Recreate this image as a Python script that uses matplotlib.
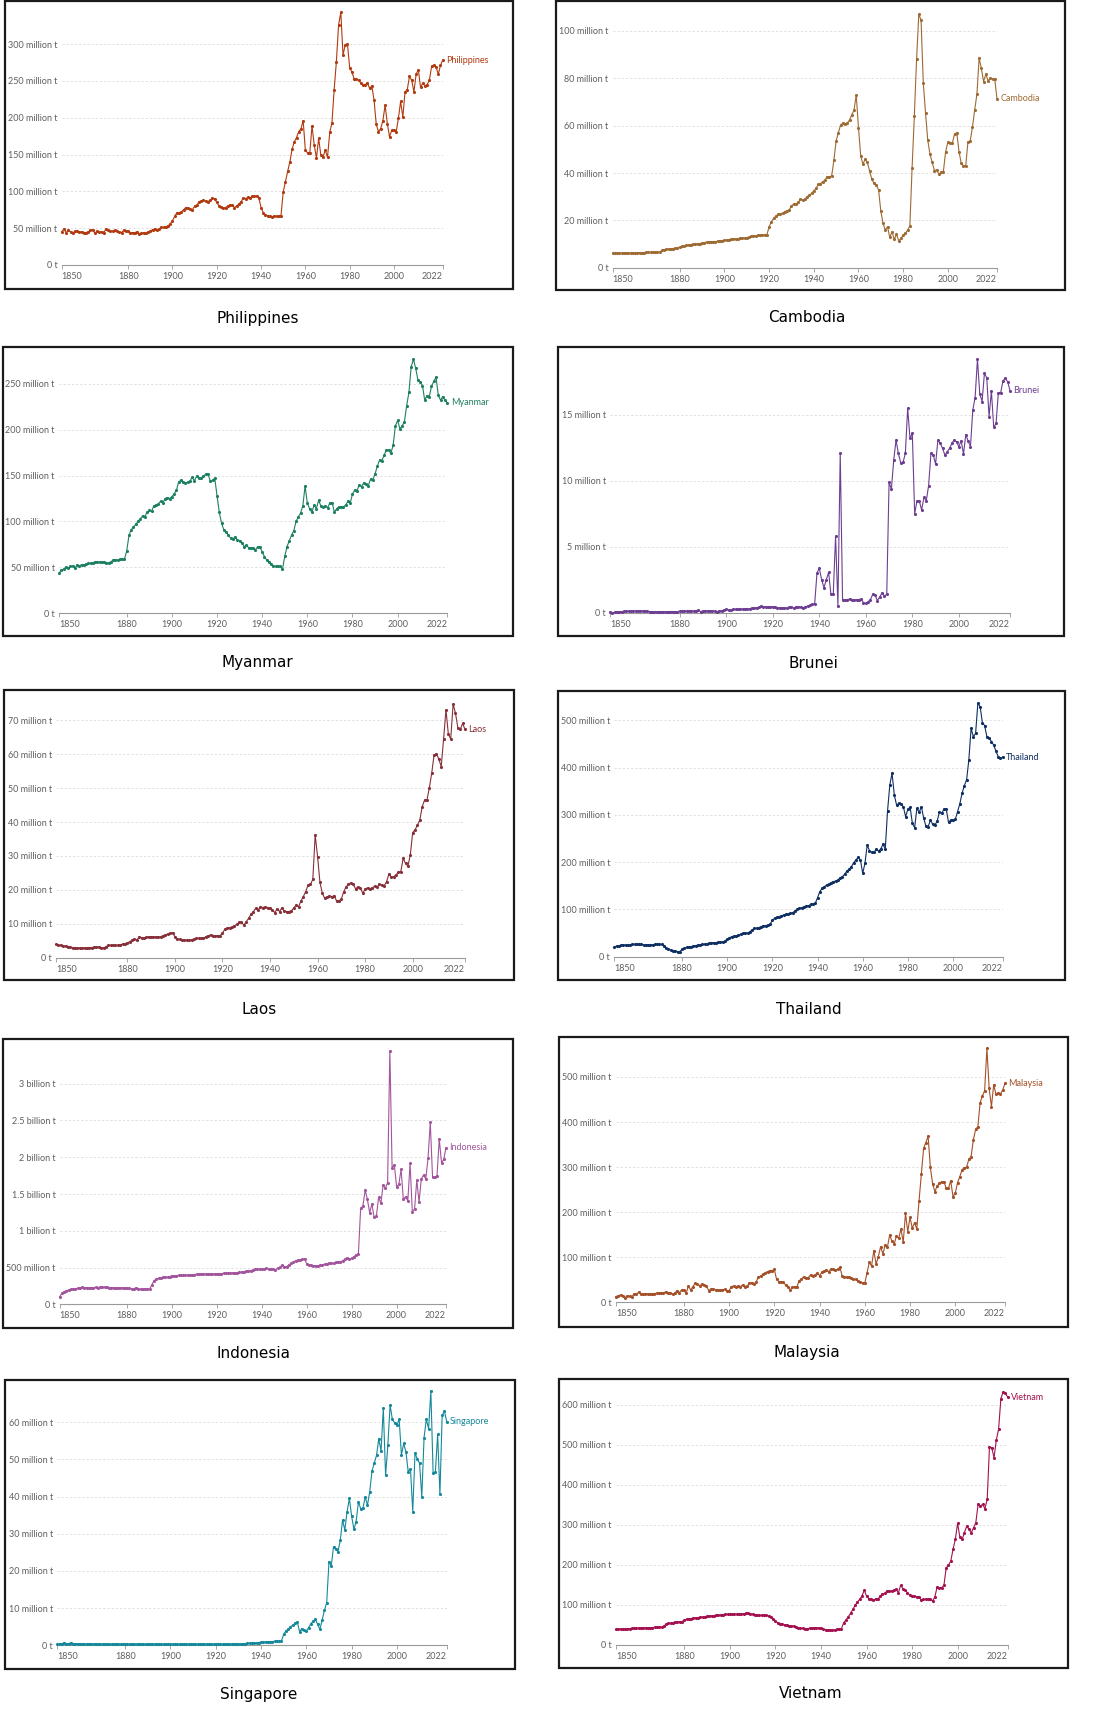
import numpy as np
import matplotlib
matplotlib.use("Agg")
import matplotlib.pyplot as plt
from matplotlib.patches import Rectangle
from matplotlib.ticker import FixedLocator, FuncFormatter

plt.rcParams["font.family"] = ["Lato", "DejaVu Sans"]

# =========================================================
# data: annual values 1850-2022, million tonnes
# =========================================================
years = np.arange(1850, 2023)

philippines = [
    45, 49, 44, 47, 45, 43, 46, 46, 45, 45,
    44, 44, 45, 47, 48, 43, 46, 45, 45, 44,
    49, 48, 46, 46, 47, 46, 45, 44, 47, 46,
    46, 44, 44, 44, 45, 42, 43, 44, 43, 45,
    46, 48, 49, 48, 49, 51, 51, 52, 53, 56,
    60, 66, 71, 70, 72, 75, 78, 77, 76, 75,
    80, 81, 86, 87, 88, 87, 86, 88, 91, 90,
    85, 80, 79, 77, 78, 80, 82, 81, 78, 80,
    83, 86, 91, 90, 92, 91, 93, 93, 94, 91,
    78, 71, 68, 67, 66, 65, 67, 66, 66, 67,
    99, 113, 127, 140, 157, 167, 173, 181, 185, 196,
    156, 152, 152, 189, 163, 145, 172, 149, 147, 156,
    146, 180, 193, 238, 276, 326, 343, 285, 299, 300,
    268, 262, 253, 252, 251, 247, 245, 245, 247, 240,
    243, 224, 191, 181, 185, 196, 217, 192, 174, 183,
    183, 181, 199, 222, 201, 235, 238, 256, 251, 235,
    259, 265, 241, 247, 243, 245, 251, 270, 271, 269,
    259, 271, 278,
]

cambodia = [
    6.1, 6.1, 6.1, 6.1, 6.1, 6.2, 6.2, 6.2, 6.2, 6.3,
    6.3, 6.3, 6.4, 6.4, 6.4, 6.5, 6.5, 6.5, 6.5, 6.5,
    6.6, 6.6, 7.3, 7.6, 7.7, 7.9, 8.0, 8.1, 8.2, 8.3,
    8.7, 9.0, 9.2, 9.5, 9.7, 9.8, 9.9, 10.0, 10.1, 10.2,
    10.4, 10.6, 10.8, 10.8, 10.9, 11.0, 11.0, 11.2, 11.4, 11.3,
    11.5, 11.8, 11.9, 12.0, 12.1, 12.2, 12.3, 12.4, 12.5, 12.6,
    12.7, 12.9, 13.2, 13.5, 13.5, 13.7, 13.8, 13.9, 13.9, 13.9,
    17.3, 19.4, 20.8, 21.8, 22.5, 22.8, 23.0, 23.7, 24.1, 24.4,
    26.1, 26.9, 26.8, 27.6, 28.9, 28.6, 28.9, 30.0, 30.7, 31.4,
    32.5, 33.5, 35.2, 35.5, 36.3, 37.0, 38.5, 38.5, 38.7, 45.5,
    53.5, 57.0, 60.3, 61.0, 60.7, 61.0, 62.4, 64.5, 66.6, 73.0,
    59.2, 47.2, 43.7, 45.9, 44.5, 40.8, 37.3, 35.6, 34.9, 32.8,
    23.9, 18.7, 15.9, 17.3, 12.8, 15.2, 12.0, 14.1, 11.4, 12.4,
    13.8, 14.5, 15.9, 17.7, 42.3, 64.1, 88.0, 107.0, 104.7, 78.2,
    65.5, 53.9, 48.0, 44.5, 41.0, 41.3, 39.4, 40.3, 40.6, 49.0,
    53.0, 52.8, 52.5, 56.5, 57.0, 49.0, 44.1, 43.1, 43.0, 53.2,
    53.5, 59.3, 66.6, 73.2, 88.5, 84.2, 78.6, 81.8, 78.9, 80.0,
    79.7, 79.7, 71.3,
]

myanmar = [
    43.5, 47, 48, 50, 49, 51, 51.5, 49, 52.6, 51.5,
    53, 52.6, 53.7, 54.4, 54.4, 55, 56, 56, 56, 55.5,
    56, 55, 55, 56, 58, 58.5, 58, 58.8, 59, 59,
    68, 85, 91, 94, 97, 100, 103, 106, 105, 110,
    112, 111, 117, 118, 119, 122, 120, 125, 126, 125,
    127, 130, 134, 143, 145, 143, 141.5, 143, 144, 148,
    144.4, 149.5, 147, 147, 149, 151.7, 151.7, 144, 145, 147,
    128, 110, 98, 91, 89, 85, 82, 81, 83, 80,
    79, 77, 72.6, 74, 71.5, 71.5, 70.8, 69, 72.6, 72,
    67, 61.7, 58, 56, 53.7, 51, 51, 51, 51, 48,
    62, 72.6, 78.7, 85, 90, 100, 105, 109, 117, 138.6,
    120, 114, 110, 118, 114, 123, 117, 116, 117, 115,
    120.5, 120.5, 110, 114, 116, 116, 116, 118, 122, 120,
    130, 134, 133.5, 140, 138, 142, 141, 139, 146, 145,
    152, 160, 167, 166, 172, 178, 178, 174, 183, 204,
    210, 201, 204, 208.5, 226, 240.6, 268.5, 276.5, 266.7, 254,
    251.5, 248, 232, 237, 236, 247, 252.5, 257, 237.7, 232,
    236, 232, 229,
]

brunei = [
    0.05, 0.0, 0.03, 0.06, 0.08, 0.08, 0.1, 0.12, 0.12, 0.1,
    0.12, 0.13, 0.12, 0.14, 0.13, 0.15, 0.1, 0.08, 0.08, 0.08,
    0.08, 0.08, 0.07, 0.06, 0.08, 0.08, 0.09, 0.09, 0.08, 0.06,
    0.12, 0.13, 0.13, 0.13, 0.14, 0.13, 0.12, 0.15, 0.18, 0.08,
    0.12, 0.16, 0.14, 0.14, 0.14, 0.1, 0.05, 0.14, 0.15, 0.2,
    0.25, 0.22, 0.18, 0.27, 0.26, 0.26, 0.28, 0.27, 0.3, 0.28,
    0.3, 0.35, 0.35, 0.38, 0.4, 0.5, 0.45, 0.45, 0.45, 0.44,
    0.45, 0.42, 0.38, 0.37, 0.36, 0.36, 0.35, 0.4, 0.45, 0.35,
    0.45, 0.45, 0.42, 0.35, 0.45, 0.5, 0.55, 0.65, 0.65, 3.0,
    3.36, 2.5, 1.9, 2.5, 3.05, 1.4, 1.4, 5.8, 0.53, 12.07,
    1.0, 0.96, 1.0, 1.03, 1.0, 0.96, 1.0, 1.0, 1.03, 0.76,
    0.7, 0.83, 1.0, 1.4, 1.34, 0.9, 1.2, 1.5, 1.26, 1.4,
    9.87, 9.37, 11.56, 13.08, 12.07, 11.36, 11.39, 12.07, 15.5, 13.2,
    13.6, 7.5, 8.46, 8.46, 7.78, 8.74, 8.48, 9.62, 12.07, 11.94,
    11.26, 13.08, 12.83, 12.45, 11.94, 12.2, 12.45, 12.83, 13.08, 12.95,
    12.58, 13.03, 12.02, 13.5, 13.0, 12.58, 15.35, 16.3, 19.2, 16.6,
    16.0, 18.13, 17.8, 14.85, 16.8, 14.04, 14.34, 16.67, 16.67, 17.58,
    17.75, 17.5, 16.82,
]

laos = [
    3.9, 3.7, 3.7, 3.4, 3.5, 3.2, 3.1, 3.0, 3.0, 2.9,
    2.9, 2.9, 2.9, 2.9, 3.0, 3.0, 3.1, 3.1, 3.2, 3.0,
    2.9, 3.2, 3.7, 3.6, 3.6, 3.6, 3.7, 3.8, 4.0, 4.1,
    4.4, 4.7, 5.2, 5.5, 5.2, 6.2, 5.9, 5.7, 6.0, 6.2,
    6.2, 6.1, 6.2, 6.0, 6.2, 6.5, 6.7, 7.0, 7.2, 7.4,
    6.2, 5.5, 5.4, 5.2, 5.2, 5.2, 5.1, 5.3, 5.5, 5.7,
    5.7, 5.7, 5.7, 6.2, 6.5, 6.7, 6.5, 6.5, 6.5, 6.5,
    7.2, 8.4, 8.7, 8.9, 9.0, 9.4, 9.8, 10.4, 10.4, 9.6,
    10.6, 11.6, 12.8, 13.6, 14.6, 14.1, 15.0, 14.8, 15.0, 14.8,
    14.6, 14.1, 13.3, 14.4, 13.6, 14.7, 13.8, 13.6, 13.6, 13.8,
    14.7, 15.5, 15.0, 16.7, 18.0, 19.5, 21.4, 21.6, 23.1, 36.2,
    29.8, 22.2, 19.0, 17.5, 18.0, 18.2, 18.0, 18.3, 16.7, 16.7,
    17.3, 19.5, 20.9, 21.6, 22.1, 21.6, 20.3, 20.9, 20.6, 19.0,
    20.3, 20.6, 20.3, 20.6, 21.1, 20.9, 21.6, 21.4, 21.2, 22.4,
    24.7, 23.7, 23.9, 24.4, 25.2, 25.4, 29.3, 27.8, 27.0, 30.3,
    36.9, 37.7, 39.1, 40.6, 44.5, 46.5, 46.5, 50.0, 54.4, 59.8,
    60.1, 58.6, 56.3, 64.5, 73.1, 65.9, 64.5, 74.8, 72.1, 67.8,
    67.3, 69.1, 67.3,
]

thailand = [
    19.7, 22.6, 23, 24.7, 24.7, 24.7, 24.7, 24.7, 26, 26,
    26, 26, 26, 24.7, 24.7, 25, 25, 25.5, 26, 26,
    26, 26, 23, 17.6, 15.5, 14, 12.7, 12, 10.6, 10.6,
    15.5, 17.6, 19.7, 21.2, 21.2, 22.6, 23.3, 24.7, 24.7, 26,
    26.8, 27.5, 28.2, 29, 29.6, 29.6, 30.3, 31, 31.7, 33.1,
    37.4, 40.2, 42.3, 43.7, 43.7, 45.8, 47.2, 49.4, 50.8, 49.4,
    52.9, 56.4, 59.9, 59.9, 61.4, 63.5, 65.6, 65.6, 67, 68.4,
    77.6, 81.1, 83.2, 84.6, 86.7, 88.2, 89.6, 89.6, 91.7, 93.1,
    96.6, 100.1, 102.3, 103.7, 105.8, 107.2, 107.9, 110.7, 110.7, 112.8,
    124.8, 137.5, 144.6, 148.1, 151.6, 153.7, 156.6, 158.7, 160.1, 162.2,
    167.1, 169.3, 174.2, 181.2, 184.8, 190.4, 198.9, 204.5, 210.2, 204.5,
    176.3, 197.5, 236.2, 224.3, 220.7, 220.7, 227.1, 223.6, 227.8, 237.7,
    227.8, 308.2, 363.2, 387.9, 342, 320.9, 324.4, 322.3, 317.3, 296.2,
    311.7, 315.9, 282.1, 272.9, 313.8, 305.4, 317.3, 292.7, 276.4, 275,
    289.1, 280, 278.6, 287, 306.8, 303.2, 312.4, 311.7, 284.2, 289.1,
    289.1, 290.6, 306.8, 323, 345.6, 361.8, 373.8, 416, 483, 465.4,
    472.5, 536, 529, 495, 488.7, 465.4, 463.3, 454.9, 447.8, 435.1,
    423.1, 419.6, 422,
]

indonesia = [
    104, 150, 172, 186, 195, 204, 208, 213, 217, 222,
    231, 228, 227, 226, 227, 228, 229, 228, 230, 232,
    236, 230, 228, 227, 226, 225, 224, 225, 223, 222,
    224, 217, 204, 208, 227, 213, 204, 204, 208, 213,
    204, 263, 322, 340, 353, 362, 367, 376, 367, 376,
    390, 385, 390, 392, 394, 395, 396, 398, 399, 400,
    405, 408, 410, 412, 412, 413, 414, 414, 415, 413,
    414, 417, 418, 420, 422, 424, 426, 427, 428, 430,
    435, 440, 444, 448, 452, 458, 466, 476, 478, 480,
    478, 480, 489, 478, 484, 476, 470, 490, 503, 530,
    512, 512, 535, 557, 571, 594, 600, 603, 612, 621,
    548, 535, 530, 526, 526, 526, 530, 535, 544, 553,
    557, 557, 557, 571, 580, 571, 594, 612, 634, 616,
    625, 648, 671, 689, 1305, 1337, 1554, 1427, 1246, 1364,
    1183, 1201, 1454, 1373, 1622, 1577, 1654, 3448, 1858, 1894,
    1600, 1631, 1835, 1427, 1464, 1405, 1917, 1260, 1296, 1690,
    1387, 1704, 1758, 1704, 1985, 2474, 1735, 1726, 1749, 2247,
    1926, 1971, 2130,
]

malaysia = [
    12.6, 14.8, 16.3, 14.8, 10.4, 14.8, 14, 12.6, 18.5, 18.5,
    22.2, 18.5, 18.5, 19, 19, 18.5, 19, 19.5, 20, 20,
    21.4, 20, 23.7, 21.4, 21.4, 17.8, 20, 25.9, 21.4, 27.4,
    27.4, 20, 36.2, 27.4, 34.8, 42.2, 40, 37, 40, 38.5,
    36.2, 25.9, 29.6, 29.6, 27.4, 27.4, 27.4, 27.4, 28.8, 25.9,
    25.9, 34.8, 36.2, 34.8, 36.2, 34.8, 38.5, 34.8, 36.2, 42.2,
    43.6, 40.7, 45.9, 55.5, 58.4, 62.1, 65.8, 68, 70.3, 70,
    73.2, 51, 45.9, 45.9, 44.4, 38.5, 34.8, 27.4, 33.3, 34.8,
    34.8, 48.1, 51, 57, 53.3, 54.7, 60.7, 59.2, 60.7, 64.3,
    59.2, 66.6, 69.5, 71.7, 68, 73.2, 73.2, 71.7, 73.2, 77.7,
    58.4, 57, 55.5, 55.5, 53.3, 51, 51, 47.3, 45.9, 43.6,
    42.2, 65.8, 88.8, 80.6, 114.6, 84.3, 101.3, 123.5, 107.2, 127.2,
    122, 149.4, 136, 129.4, 147.2, 142, 162.7, 133.1, 197.5, 156.8,
    188.6, 164.2, 176.8, 162.7, 225.6, 284.8, 341.7, 354.3, 369, 299.6,
    262.6, 245.6, 258.1, 264, 267.8, 267.8, 253, 253, 270, 234.5,
    241.9, 265.5, 278.8, 293.6, 298.8, 299.6, 317.3, 323.2, 360.2, 383.9,
    389.8, 443, 457.8, 469.7, 563.6, 474.9, 434.2, 483, 461.5, 465.2,
    462.3, 471.2, 486,
]

singapore = [
    0.27, 0.45, 0.4, 0.7, 0.45, 0.45, 0.7, 0.45, 0.4, 0.45,
    0.4, 0.35, 0.35, 0.35, 0.35, 0.4, 0.35, 0.35, 0.3, 0.3,
    0.3, 0.3, 0.3, 0.3, 0.3, 0.3, 0.3, 0.3, 0.3, 0.3,
    0.3, 0.3, 0.3, 0.3, 0.3, 0.3, 0.3, 0.3, 0.3, 0.3,
    0.3, 0.3, 0.3, 0.3, 0.3, 0.3, 0.3, 0.3, 0.3, 0.3,
    0.3, 0.3, 0.3, 0.3, 0.3, 0.3, 0.3, 0.3, 0.3, 0.3,
    0.3, 0.3, 0.3, 0.3, 0.3, 0.3, 0.3, 0.3, 0.35, 0.3,
    0.3, 0.3, 0.3, 0.3, 0.3, 0.3, 0.3, 0.3, 0.3, 0.32,
    0.35, 0.38, 0.4, 0.45, 0.5, 0.55, 0.6, 0.65, 0.7, 0.75,
    0.8, 0.85, 0.9, 0.95, 1.0, 1.0, 1.05, 1.1, 1.1, 1.15,
    3.0, 3.9, 4.3, 5.0, 5.4, 5.9, 6.3, 3.7, 4.5, 4.0,
    3.9, 4.75, 5.8, 6.5, 7.0, 5.6, 4.3, 6.8, 9.4, 11.5,
    22.5, 21.3, 26.5, 25.8, 25.2, 28.3, 33.7, 31.0, 36.0, 39.5,
    34.8, 31.2, 33.3, 38.6, 36.8, 36.9, 39.9, 37.7, 41.3, 46.9,
    49.0, 51.1, 55.6, 52.3, 63.8, 45.7, 53.8, 64.6, 60.8, 59.9,
    59.2, 60.8, 51.2, 54.3, 52.0, 46.7, 47.5, 36.0, 51.7, 50.2,
    49.0, 40.0, 55.9, 60.8, 58.3, 68.4, 46.3, 46.6, 56.8, 40.6,
    61.9, 63.0, 60.2,
]

vietnam = [
    39, 40, 40, 40.5, 40.5, 41, 41, 41.5, 41.5, 42,
    42.4, 42.5, 42.7, 43, 43, 43.3, 43.5, 44, 44.5, 45,
    45, 47.4, 51.6, 54, 54.5, 55.8, 57.4, 57.4, 58.3, 58.5,
    61.6, 64, 65.7, 66, 67.4, 68.2, 68.2, 70, 69.5, 70.7,
    71.6, 72.4, 73.2, 73.2, 74.9, 74.1, 75.7, 75.7, 76.6, 76.6,
    76.6, 76.6, 76.6, 76.6, 78.2, 77.4, 78.2, 79, 79, 78.2,
    76.6, 74.9, 74.1, 74.1, 74.1, 74.1, 74.1, 72.4, 70.7, 64,
    59, 55.8, 53.3, 51.6, 50.8, 49.1, 48.5, 48.5, 46.6, 46,
    43.3, 41.6, 41.6, 40.8, 40.8, 41.6, 42.4, 42.4, 43.3, 42.4,
    41.6, 39, 38.3, 38.3, 37.4, 37.4, 37.4, 39, 40, 40.8,
    55.8, 62.4, 70.7, 79, 89, 99, 107.3, 114, 122.3, 136.5,
    122.3, 115.7, 114, 111.5, 115.7, 114, 122.3, 126.5, 129, 134.8,
    134.8, 134.8, 136.5, 139, 130.6, 149, 140.6, 136.5, 130.6, 124.8,
    122.3, 122.3, 120.7, 120.7, 112.3, 114, 114, 114, 114, 109.8,
    119.8, 144.8, 143.1, 143.1, 149, 193, 198.9, 209.7, 238.8, 263.8,
    303.7, 269.6, 263.8, 280.4, 297, 288.8, 280.4, 292.9, 305.4, 351.2,
    347, 351.2, 340.4, 363.7, 495.1, 492.6, 467.7, 511.8, 538.4, 615,
    632.4, 628.3, 619,
]

countries = ["Philippines", "Cambodia", "Myanmar", "Brunei", "Laos",
             "Thailand", "Indonesia", "Malaysia", "Singapore", "Vietnam"]
series = [philippines, cambodia, myanmar, brunei, laos,
          thailand, indonesia, malaysia, singapore, vietnam]
y_ticks = [
    [0, 50, 100, 150, 200, 250, 300],
    [0, 20, 40, 60, 80, 100],
    [0, 50, 100, 150, 200, 250],
    [0, 5, 10, 15],
    [0, 10, 20, 30, 40, 50, 60, 70],
    [0, 100, 200, 300, 400, 500],
    [0, 500, 1000, 1500, 2000, 2500, 3000],
    [0, 100, 200, 300, 400, 500],
    [0, 10, 20, 30, 40, 50, 60],
    [0, 100, 200, 300, 400, 500, 600],
]
x_ticks = [1850, 1880, 1900, 1920, 1940, 1960, 1980, 2000, 2022]

colors = ["#B13A10", "#9E6A34", "#1E8062", "#6D3E91", "#883039",
          "#0F2F62", "#A2559C", "#A4512A", "#15899B", "#A3124F"]

# =========================================================
# layout (pixels of a 1093 x 1716 canvas)
# box: x0, y0, x1, y1 / axes: left, right, zero line y, ref value, ref y / title x, y
# =========================================================
W, H = 1093, 1716
boxes = [(5, 1, 513, 289), (556, 1, 1065, 290),
         (3, 347, 513, 636), (558, 347, 1064, 636),
         (4, 690, 514, 980), (558, 691, 1065, 980),
         (3, 1039, 513, 1328), (559, 1037, 1068, 1327),
         (5, 1380, 515, 1669), (559, 1379, 1068, 1668)]
axes_px = [(61.7, 442.7, 265.0, 300, 44.0),
           (612.7, 997.0, 267.7, 100, 31.0),
           (59.0, 447.3, 613.3, 250, 383.7),
           (610.0, 1010.0, 612.7, 15, 414.7),
           (56.0, 465.0, 957.7, 70, 720.3),
           (614.3, 1002.7, 956.7, 500, 720.3),
           (59.7, 446.0, 1304.3, 3000, 1083.7),
           (616.0, 1005.0, 1302.3, 500, 1077.0),
           (57.3, 446.7, 1645.3, 60, 1422.3),
           (616.0, 1007.7, 1645.0, 600, 1404.7)]
titles_px = [(258, 318), (807, 318), (257, 663), (813, 663), (259, 1009),
             (809, 1009), (254, 1353), (807, 1353), (259, 1694), (811, 1694)]


def fmt_tonnes(v, pos=None):
    if v == 0:
        return "0 t"
    if v >= 1000:
        return f"{v / 1000:g} billion t"
    return f"{v:g} million t"


fig = plt.figure(figsize=(W / 100, H / 100), dpi=100)
fig.patch.set_facecolor("white")

for i, name in enumerate(countries):
    vals = np.asarray(series[i], dtype=float)
    assert len(vals) == len(years), (name, len(vals))

    # black frame round the panel
    bx0, by0, bx1, by1 = boxes[i]
    fig.add_artist(Rectangle((bx0 / W, 1 - by1 / H), (bx1 - bx0) / W, (by1 - by0) / H,
                             transform=fig.transFigure, fill=False,
                             edgecolor="#1a1a1a", linewidth=1.6))

    left, right, zero, ref_v, ref_y = axes_px[i]
    scale = (zero - ref_y) / ref_v
    ymax = vals.max()
    top = zero - scale * ymax
    ax = fig.add_axes([left / W, 1 - zero / H, (right - left) / W, (zero - top) / H])
    ax.set_xlim(years[0], years[-1])
    ax.set_ylim(0, ymax)

    ax.plot(years, vals, color=colors[i], lw=0.8, marker="o", ms=1.25,
            mec=colors[i], mfc=colors[i], clip_on=False, zorder=3)

    for s in ["top", "left", "right"]:
        ax.spines[s].set_visible(False)
    ax.spines["bottom"].set_color("#9a9a9a")
    ax.spines["bottom"].set_linewidth(0.8)

    ax.yaxis.set_major_locator(FixedLocator(y_ticks[i]))
    ax.yaxis.set_major_formatter(FuncFormatter(fmt_tonnes))
    ax.tick_params(axis="y", length=0, pad=3, labelsize=6.5, labelcolor="#5f5f5f")
    for t in y_ticks[i][1:]:
        ax.axhline(t, color="#dadada", lw=0.6, ls=(0, (2.5, 2.5)), zorder=1)

    ax.set_xticks(x_ticks)
    ax.set_xticklabels([str(x) for x in x_ticks])
    ax.tick_params(axis="x", length=3, width=0.6, color="#9a9a9a", pad=2,
                   labelsize=6.5, labelcolor="#5f5f5f")
    xl = ax.get_xticklabels()
    xl[0].set_horizontalalignment("left")
    xl[-1].set_horizontalalignment("right")

    ax.annotate(name, xy=(years[-1], vals[-1]), xytext=(2.5, 0),
                textcoords="offset points", va="center", ha="left",
                fontsize=6.5, color=colors[i], annotation_clip=False)

    tx, ty = titles_px[i]
    fig.text(tx / W, 1 - ty / H, name, ha="center", va="center",
             fontsize=11, family=["DejaVu Sans"], color="black")

fig.savefig("out.png", dpi=100, facecolor="white")
